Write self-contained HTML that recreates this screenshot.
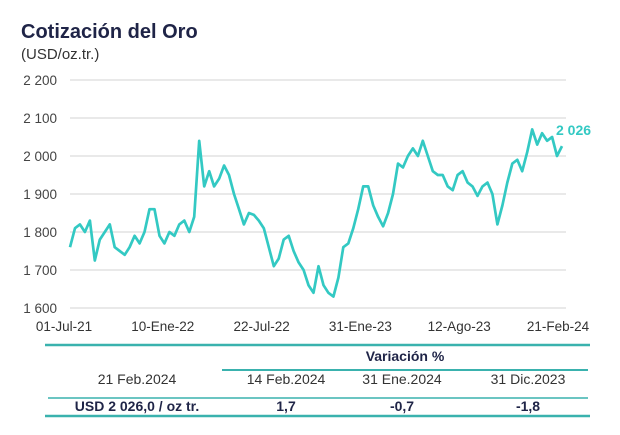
<!DOCTYPE html>
<html><head><meta charset="utf-8"><style>
body{margin:0;background:#fff;font-family:"Liberation Sans",sans-serif;}
#wrap{position:relative;width:620px;height:435px;overflow:hidden;}
</style></head><body>
<div id="wrap">
<svg id="chart" width="620" height="435" font-family="Liberation Sans, sans-serif">
<text x="21" y="38" font-size="20" font-weight="bold" fill="#1f2447">Cotización del Oro</text>
<text x="21" y="59" font-size="15" fill="#333">(USD/oz.tr.)</text>
<g id="grid"></g><g id="ylab"></g><g id="xlab"></g>
<path id="line" fill="none" stroke="#33c9c3" stroke-width="2.7" stroke-linejoin="round"/>
<text id="endlab" font-size="14" font-weight="bold" fill="#33c9c3">2 026</text>
<g>
<line x1="45" y1="345" x2="590" y2="345" stroke="#3ab2ae" stroke-width="2.5"/>
<text x="405" y="361" font-size="14" font-weight="bold" fill="#1f2447" text-anchor="middle">Variación %</text>
<line x1="222" y1="370" x2="588" y2="370" stroke="#3ab2ae" stroke-width="2"/>
<text x="137" y="384" font-size="14" fill="#333" text-anchor="middle">21 Feb.2024</text>
<text x="286" y="384" font-size="14" fill="#333" text-anchor="middle">14 Feb.2024</text>
<text x="402" y="384" font-size="14" fill="#333" text-anchor="middle">31 Ene.2024</text>
<text x="528" y="384" font-size="14" fill="#333" text-anchor="middle">31 Dic.2023</text>
<line x1="48" y1="398" x2="588" y2="398" stroke="#3ab2ae" stroke-width="1.5"/>
<text x="137" y="411" font-size="14" font-weight="bold" fill="#1f2447" text-anchor="middle">USD 2 026,0 / oz tr.</text>
<text x="286" y="411" font-size="14" font-weight="bold" fill="#1f2447" text-anchor="middle">1,7</text>
<text x="402" y="411" font-size="14" font-weight="bold" fill="#1f2447" text-anchor="middle">-0,7</text>
<text x="528" y="411" font-size="14" font-weight="bold" fill="#1f2447" text-anchor="middle">-1,8</text>
<line x1="45" y1="416" x2="590" y2="416" stroke="#3ab2ae" stroke-width="2.5"/>
</g>
</svg>
</div>
<script>
const prices=[1760,1810,1820,1800,1830,1725,1780,1800,1820,1760,1750,1740,1760,1790,1770,1800,1860,1860,1790,1770,1800,1790,1820,1830,1800,1840,2040,1920,1960,1920,1940,1975,1950,1900,1860,1820,1850,1845,1830,1810,1760,1710,1730,1780,1790,1750,1720,1700,1660,1640,1710,1660,1640,1630,1680,1760,1770,1810,1860,1920,1920,1870,1840,1815,1850,1900,1980,1970,2000,2020,2000,2040,2000,1960,1950,1950,1920,1910,1950,1960,1930,1920,1895,1920,1930,1900,1820,1870,1930,1980,1990,1960,2010,2070,2030,2060,2040,2050,2000,2026];
const yTicks=[1600,1700,1800,1900,2000,2100,2200];
const yTickLabels=["1 600","1 700","1 800","1 900","2 000","2 100","2 200"];
const xTickLabels=["01-Jul-21","10-Ene-22","22-Jul-22","31-Ene-23","12-Ago-23","21-Feb-24"];
const lastLabel="2 026";
const X0=70,X1=562,Y0=308,Y1=80,VMIN=1600,VMAX=2200;
const ns="http://www.w3.org/2000/svg";
function xs(i){return X0+(X1-X0)*i/(prices.length-1);}
function ys(v){return Y0-(v-VMIN)/(VMAX-VMIN)*(Y0-Y1);}
const grid=document.getElementById('grid'),yl=document.getElementById('ylab'),xl=document.getElementById('xlab');
yTicks.forEach((t,i)=>{
 const l=document.createElementNS(ns,'line');
 l.setAttribute('x1',X0);l.setAttribute('x2',X1+4);l.setAttribute('y1',ys(t));l.setAttribute('y2',ys(t));
 l.setAttribute('stroke','#dcdcdc');l.setAttribute('stroke-width','1.3');
 
 
 grid.appendChild(l);
 const tx=document.createElementNS(ns,'text');
 tx.setAttribute('x',57);tx.setAttribute('y',ys(t)+5);tx.setAttribute('text-anchor','end');
 tx.setAttribute('font-size','13.5');tx.setAttribute('fill','#444');tx.textContent=yTickLabels[i];
 
 
 yl.appendChild(tx);
});
xTickLabels.forEach((s,i)=>{
 const tx=document.createElementNS(ns,'text');
 const x=64+i*(558-64)/(xTickLabels.length-1);
 tx.setAttribute('x',x);tx.setAttribute('y',331);tx.setAttribute('text-anchor','middle');
 tx.setAttribute('font-size','13.5');tx.setAttribute('fill','#333');tx.textContent=s;
 
 
 xl.appendChild(tx);
});
document.getElementById('line').setAttribute('d',prices.map((v,i)=>(i?'L':'M')+xs(i).toFixed(1)+' '+ys(v).toFixed(1)).join(''));
const el=document.getElementById('endlab');
el.textContent=lastLabel;
el.setAttribute('x',xs(prices.length-1)-6);el.setAttribute('y',ys(prices[prices.length-1])-11);
</script>
</body></html>
